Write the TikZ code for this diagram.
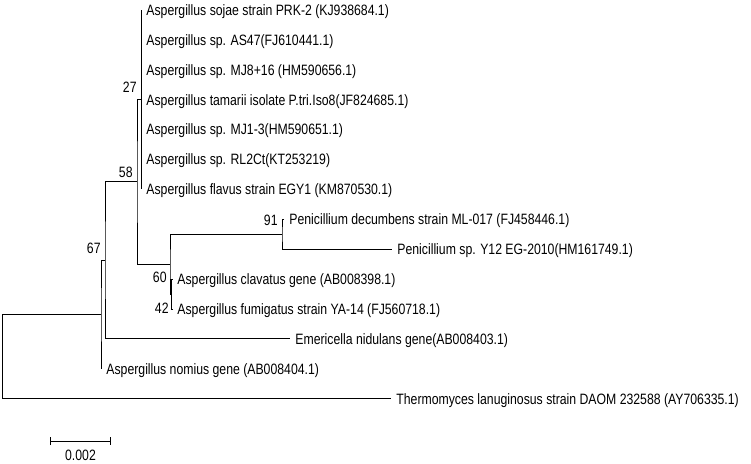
\documentclass[tikz,border=0pt]{standalone}
\usepackage{fontspec}
\setmainfont{Liberation Sans}[FakeStretch=0.817]
\usepackage{tikz}
\usetikzlibrary{positioning}
\usetikzlibrary{arrows.meta}
\usetikzlibrary{calc}
\tikzset{leaf/.style={anchor=west,inner sep=0pt,text height=10.7pt,text depth=0pt,font=\fontsize{15}{17}\selectfont},
	boot/.style={anchor=east,inner sep=0pt,text height=10.7pt,text depth=0pt,font=\fontsize{15}{17}\selectfont},}
\begin{document}
\begin{tikzpicture}[x=1pt, y=-1pt, line width=0.85pt]
	\useasboundingbox (0,0) rectangle (751,463);
	% taxa
	\node[leaf] (sojae) at (146,10) {Aspergillus sojae strain PRK-2 (KJ938684.1)};
	\node[leaf] (as47) at (146,39.9) {Aspergillus sp. AS47(FJ610441.1)};
	\node[leaf] (mj816) at (146,69.8) {Aspergillus sp. MJ8+16 (HM590656.1)};
	\node[leaf] (tamarii) at (146,99.7) {Aspergillus tamarii isolate P.tri.Iso8(JF824685.1)};
	\node[leaf] (mj13) at (146,129.6) {Aspergillus sp. MJ1-3(HM590651.1)};
	\node[leaf] (rl2ct) at (146,159.5) {Aspergillus sp. RL2Ct(KT253219)};
	\node[leaf] (flavus) at (146,189.4) {Aspergillus flavus strain EGY1 (KM870530.1)};
	\node[leaf] (decumbens) at (289,219.3) {Penicillium decumbens strain ML-017 (FJ458446.1)};
	\node[leaf] (y12) at (397,249.2) {Penicillium sp. Y12 EG-2010(HM161749.1)};
	\node[leaf] (clavatus) at (177,279.1) {Aspergillus clavatus gene (AB008398.1)};
	\node[leaf] (fumigatus) at (177,309) {Aspergillus fumigatus strain YA-14 (FJ560718.1)};
	\node[leaf] (emericella) at (295,338.9) {Emericella nidulans gene(AB008403.1)};
	\node[leaf] (nomius) at (106,368.8) {Aspergillus nomius gene (AB008404.1)};
	\node[leaf] (thermo) at (396,398.7) {Thermomyces lanuginosus strain DAOM 232588 (AY706335.1)};

	% inner nodes
	\coordinate (n27) at (141,99.7);
	\coordinate (n91) at (282,234.25);
	\coordinate (n42) at (171.5,294.05);
	\coordinate (n60) at (170,264.15);
	\coordinate (n58) at (137,181.9);
	\coordinate (n67) at (105,260.4);
	\coordinate (nin) at (101,314.6);
	\coordinate (root) at (2,314.6);

	% branches
	\foreach \l in {sojae,as47,mj816,tamarii,mj13,rl2ct,flavus}
		\draw (n27) |- ([xshift=-5pt]\l.west);
	\draw ([xshift=-5pt]decumbens.west) -| (n91) |- ([xshift=-5pt]y12.west);
	\draw ([xshift=-5pt]clavatus.west) -| (n42) |- ([xshift=-5pt]fumigatus.west);
	\draw (n91) -| (n60) |- (n42);
	\draw (n27) -| (n58) |- (n60);
	\draw (n58) -| (n67) |- ([xshift=-5pt]emericella.west);
	\draw (n67) -| (nin) |- ([xshift=-5pt]nomius.west);
	\draw (nin) -- (root) |- ([xshift=-5pt]thermo.west);

	% bootstrap values
	\node[boot] (b27) at ([shift={(-4,-12.5)}]n27) {27};
	\node[boot] (b58) at ([shift={(-4,-10)}]n58) {58};
	\node[boot] (b67) at ([shift={(-4,-12.4)}]n67) {67};
	\node[boot] (b91) at ([shift={(-4,-14)}]n91) {91};
	\node[boot] (b60) at ([shift={(-3,13)}]n60) {60};
	\node[boot] (b42) at ([shift={(-2.5,14)}]n42) {42};

	% scale bar
	\coordinate (sbl) at (50,441);
	\coordinate (sbr) at (111,441);
	\draw[{Bar[width=8pt]}-{Bar[width=8pt]}] (sbl) -- (sbr);
	\node[boot, anchor=center] (sbtext) at ($(sbl)!.5!(sbr)+(0,14)$) {0.002};
\end{tikzpicture}
\end{document}
